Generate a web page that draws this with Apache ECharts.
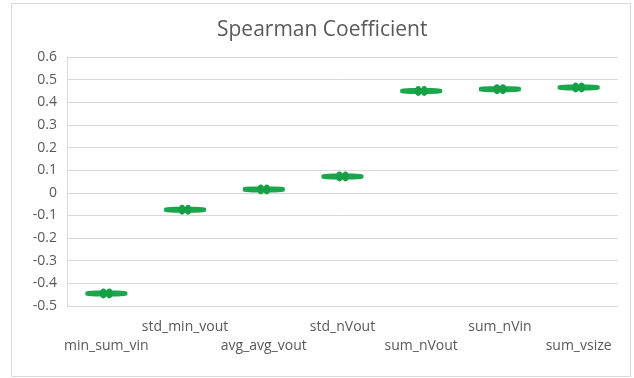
<!DOCTYPE html>
<html><head><meta charset="utf-8">
<script src="https://cdn.jsdelivr.net/npm/echarts@6/dist/echarts.min.js"></script>
<style>html,body{margin:0;padding:0;background:#fff}#c{width:634px;height:378px}</style>
</head><body><div id="c"></div>
<script>
const categories = ['min_sum_vin','std_min_vout','avg_avg_vout','std_nVout','sum_nVout','sum_nVin','sum_vsize'];
const spearman = [-0.445, -0.075, 0.015, 0.072, 0.45, 0.458, 0.465];
const yTickLabels = ['-0.5','-0.4','-0.3','-0.2','-0.1','0','0.1','0.2','0.3','0.4','0.5','0.6'];
const yMin = -0.5, yMax = 0.6, yStep = 0.1;

const FONT = '"Open Sans", sans-serif';
const chart = echarts.init(document.getElementById('c'));
chart.setOption({
  animation: false,
  backgroundColor: '#fff',
  title: { text: 'Spearman Coefficient', left: 212, top: 15,
    textStyle: { fontFamily: FONT, fontSize: 21, fontWeight: 'normal', color: '#595959' } },
  graphic: [{ type: 'rect', shape: { x: 11.5, y: 3.5, width: 619, height: 373 },
    style: { fill: 'none', stroke: '#d9d9d9', lineWidth: 1 }, silent: true }],
  grid: { left: 67, right: 16, top: 57, bottom: 72 },
  xAxis: {
    type: 'category', data: categories, boundaryGap: true,
    axisLine: { show: false }, axisTick: { show: false },
    axisLabel: { interval: 0, margin: 12, fontFamily: FONT, fontSize: 14, color: '#595959', lineHeight: 19,
      formatter: (v, i) => (i % 2 === 0 ? '\n' + v : v) }
  },
  yAxis: {
    type: 'value', min: yMin, max: yMax, interval: yStep,
    axisLine: { show: true, lineStyle: { color: '#d9d9d9' } }, axisTick: { show: false },
    splitLine: { lineStyle: { color: '#d9d9d9' } },
    axisLabel: { margin: 10, fontFamily: FONT, fontSize: 14, color: '#595959',
      formatter: v => yTickLabels[Math.round((v - yMin) / yStep)] }
  },
  series: [
    { type: 'scatter', data: spearman, symbol: 'roundRect', symbolSize: [42, 6],
      itemStyle: { color: '#1aa64b', opacity: 1 }, z: 2 },
    { type: 'scatter', data: spearman,
      symbol: 'path://M0,5a3.5,5 0 1,0 7,0a3.5,5 0 1,0 -7,0M6,5a3.5,5 0 1,0 7,0a3.5,5 0 1,0 -7,0',
      symbolSize: [13, 10], itemStyle: { color: '#16a045', opacity: 1 }, z: 3 }
  ]
});
</script></body></html>
